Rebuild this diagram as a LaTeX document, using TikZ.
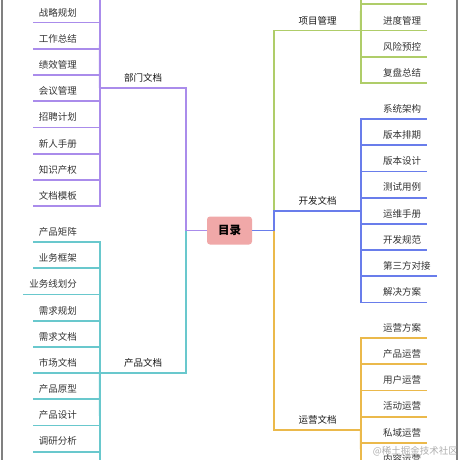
\documentclass[tikz,border=0pt]{standalone}
\usepackage{fontspec}
\newfontfamily\cjk{Noto Sans CJK SC}
\usepackage{tikz}
\usetikzlibrary{positioning}

\definecolor{bmcol}{RGB}{170,140,235}
\definecolor{cpcol}{RGB}{105,200,205}
\definecolor{xmcol}{RGB}{175,205,105}
\definecolor{kfcol}{RGB}{105,125,235}
\definecolor{yycol}{RGB}{235,185,75}
\definecolor{rootcol}{RGB}{240,168,168}

\tikzset{
  leaf/.style = {font=\cjk\fontsize{9.5}{11}\selectfont, text=black!80, inner xsep=6pt, inner ysep=0pt, minimum height=20pt},
  branch/.style = {font=\cjk\fontsize{9.5}{11}\selectfont, text=black!90, inner sep=0pt, minimum width=86pt, minimum height=20pt, anchor=south},
  link/.style = {line width=1.8pt},
  frame/.style = {draw=black!50, line width=1.6pt}
}

\begin{document}
\begin{tikzpicture}[x=1pt, y=-1pt,
    root/.style = {fill=rootcol, rounded corners=3pt, minimum width=45pt, minimum height=28pt, inner sep=0pt, font=\cjk\bfseries\fontsize{11.5}{13}\selectfont}
  ]
  \useasboundingbox (0,0) rectangle (460,460);
  \clip (0,0) rectangle (460,460);

  \draw[frame] (2,0) -- (2,460);
  \draw[frame] (457,0) -- (457,460);

  \node[root] (root) at (229.5,230.5) {目录};
  \coordinate (lfork) at (186,230.5);
  \coordinate (rfork) at (274,230.5);

  % main branches
  \node[branch] (bumen) at (143,88) {部门文档};
  \node[branch] (chanpin) at (143,373) {产品文档};
  \node[branch] (xiangmu) at (317.5,30.6) {项目管理};
  \node[branch] (kaifa) at (317.5,210.7) {开发文档};
  \node[branch] (yunying) at (317.5,429.7) {运营文档};

  \draw[link,cpcol] (lfork) |- (chanpin.south west);
  \draw[link,bmcol] (root.west) -- (lfork) |- (bumen.south west);
  \draw[link,xmcol] (rfork) |- (xiangmu.south east);
  \draw[link,yycol] (rfork) |- (yunying.south east);
  \draw[link,kfcol] (root.east) -- (rfork) |- (kaifa.south east);

  % 部门文档
  \coordinate (bmtop) at (100,0);
  \draw[link,bmcol] (bumen.south west) -- (bmtop);
  \foreach \t [count=\i from 0] in {战略规划,工作总结,绩效管理,会议管理,招聘计划,新人手册,知识产权,文档模板} {
    \node[leaf, anchor=south east] (bm\i) at (83,{22.6+\i*26.2}) {\t};
    \draw[link,bmcol] (bumen.south west) |- (bm\i.south west);
  }

  % 产品文档
  \coordinate (cpbot) at (100,460);
  \draw[link,cpcol] (chanpin.south west) -- (cpbot);
  \foreach \t [count=\i from 0] in {产品矩阵,业务框架,业务线划分,需求规划,需求文档,市场文档,产品原型,产品设计,调研分析} {
    \node[leaf, anchor=south east] (cp\i) at (83,{242+\i*26.2}) {\t};
    \draw[link,cpcol] (chanpin.south west) |- (cp\i.south west);
  }

  % 项目管理
  \coordinate (xmtop) at (361,0);
  \coordinate (xm0) at (427,4.4);
  \draw[link,xmcol] (xiangmu.south east) -- (xmtop);
  \draw[link,xmcol] (xiangmu.south east) |- (xm0);
  \foreach \t [count=\i from 1] in {进度管理,风险预控,复盘总结} {
    \node[leaf, anchor=south west] (xm\i) at (377,{4.4+\i*26.2}) {\t};
    \draw[link,xmcol] (xiangmu.south east) |- (xm\i.south east);
  }

  % 开发文档
  \foreach \t [count=\i from 0] in {系统架构,版本排期,版本设计,测试用例,运维手册,开发规范,第三方对接,解决方案} {
    \node[leaf, anchor=south west] (kf\i) at (377,{119+\i*26.2}) {\t};
    \draw[link,kfcol] (kaifa.south east) |- (kf\i.south east);
  }

  % 运营文档
  \coordinate (yybot) at (361,460);
  \draw[link,yycol] (yunying.south east) -- (yybot);
  \foreach \t [count=\i from 0] in {运营方案,产品运营,用户运营,活动运营,私域运营,内容运营} {
    \node[leaf, anchor=south west] (yy\i) at (377,{338+\i*26.2}) {\t};
    \draw[link,yycol] (yunying.south east) |- (yy\i.south east);
  }

  \node[font=\cjk\fontsize{9.5}{11}\selectfont, text=black!40, opacity=0.8, anchor=east, inner sep=0pt] (wm) at (458,451) {@稀土掘金技术社区};
\end{tikzpicture}
\end{document}
